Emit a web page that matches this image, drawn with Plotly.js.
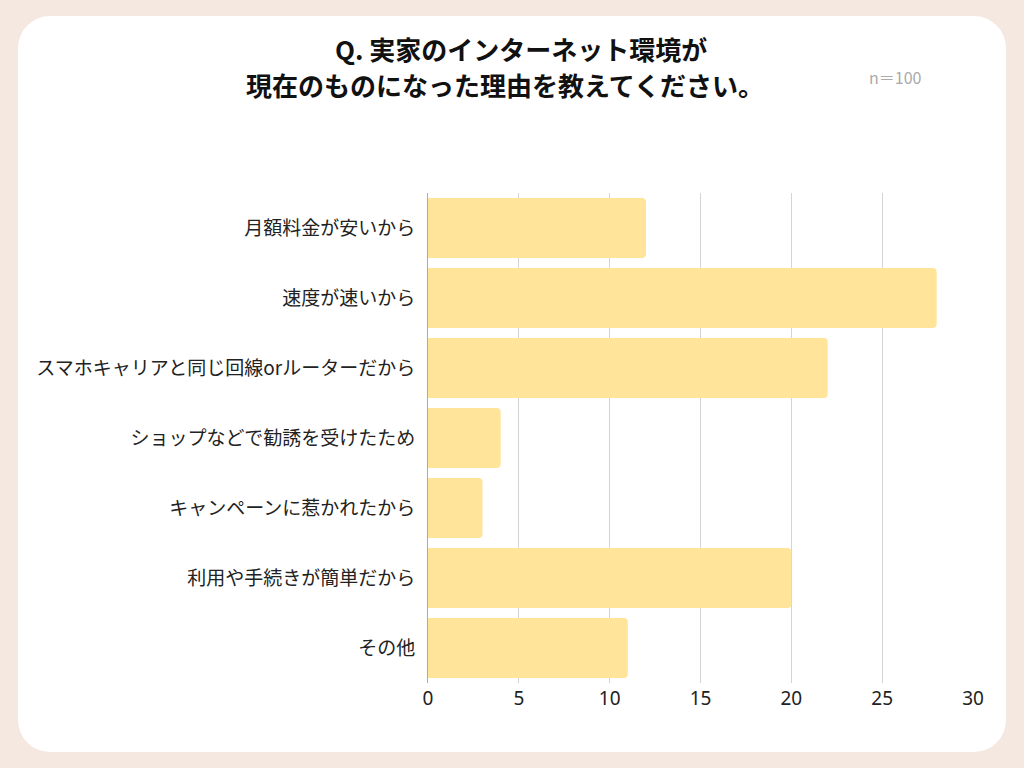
<!DOCTYPE html>
<html>
<head>
<meta charset="utf-8">
<script src="https://cdn.plot.ly/plotly-3.0.1.min.js"></script>
<style>
    html, body { margin: 0; padding: 0; background: #f5e8e0; }
    #card {
        position: absolute; left: 18px; top: 16px; width: 988px; height: 736px;
        background: #ffffff; border-radius: 32px;
    }
    #chart { position: absolute; left: 0; top: 0; width: 1024px; height: 768px; }
</style>
</head>
<body>
<div id="card"></div>
<div id="chart"></div>
<script>
const CATEGORIES = [
    "月額料金が安いから",
    "速度が速いから",
    "スマホキャリアと同じ回線orルーターだから",
    "ショップなどで勧誘を受けたため",
    "キャンペーンに惹かれたから",
    "利用や手続きが簡単だから",
    "その他"
];
const COUNTS = [12, 28, 22, 4, 3, 20, 11];
const X_TICKS = [0, 5, 10, 15, 20, 25, 30];
const TITLE_LINES = ["Q. 実家のインターネット環境が", "現在のものになった理由を教えてください。"];

const FONT = "'Noto Sans CJK JP', 'Noto Sans', sans-serif";

// pixel -> paper helpers (plot area 428..973 x 193..683)
function px(x) { return (x - 428) / 545; }
function py(y) { return 1 - (y - 193) / 490; }

var trace = {
    type: 'bar',
    orientation: 'h',
    y: CATEGORIES,
    x: COUNTS,
    marker: { color: '#ffe499', cornerradius: 4 },
    hoverinfo: 'none'
};

var layout = {
    width: 1024,
    height: 768,
    paper_bgcolor: 'rgba(0,0,0,0)',
    plot_bgcolor: 'rgba(0,0,0,0)',
    margin: { l: 428, r: 51, t: 193, b: 85 },
    bargap: 0.14,
    showlegend: false,
    font: { family: FONT, color: '#222222' },
    xaxis: {
        range: [0, 30],
        tickvals: X_TICKS,
        showgrid: true,
        gridcolor: '#d4d4d4',
        gridwidth: 1,
        zeroline: false,
        showline: false,
        tickfont: { size: 19, color: '#222222', family: "'Noto Sans', sans-serif" },
        ticks: '',
        ticklabelstandoff: 2,
        fixedrange: true
    },
    yaxis: {
        autorange: 'reversed',
        showgrid: false,
        showline: true,
        linecolor: '#aaaaaa',
        linewidth: 1,
        zeroline: false,
        tickfont: { size: 19, color: '#222222' },
        ticks: '',
        ticklabelstandoff: 8,
        fixedrange: true
    },
    annotations: [
        {
            text: "<b>" + TITLE_LINES[0] + "</b>",
            xref: 'paper', yref: 'paper',
            x: px(521), y: py(48),
            xanchor: 'center', yanchor: 'middle',
            showarrow: false,
            font: { size: 26, color: '#111111', family: FONT }
        },
        {
            text: "<b>" + TITLE_LINES[1] + "</b>",
            xref: 'paper', yref: 'paper',
            x: px(505), y: py(84),
            xanchor: 'center', yanchor: 'middle',
            showarrow: false,
            font: { size: 26, color: '#111111', family: FONT }
        },
        {
            text: "n＝100",
            xref: 'paper', yref: 'paper',
            x: px(895), y: py(77),
            xanchor: 'center', yanchor: 'middle',
            showarrow: false,
            font: { size: 16, color: '#aaaaaa', family: FONT }
        }
    ]
};

Plotly.newPlot('chart', [trace], layout, { staticPlot: true });
</script>
</body>
</html>
